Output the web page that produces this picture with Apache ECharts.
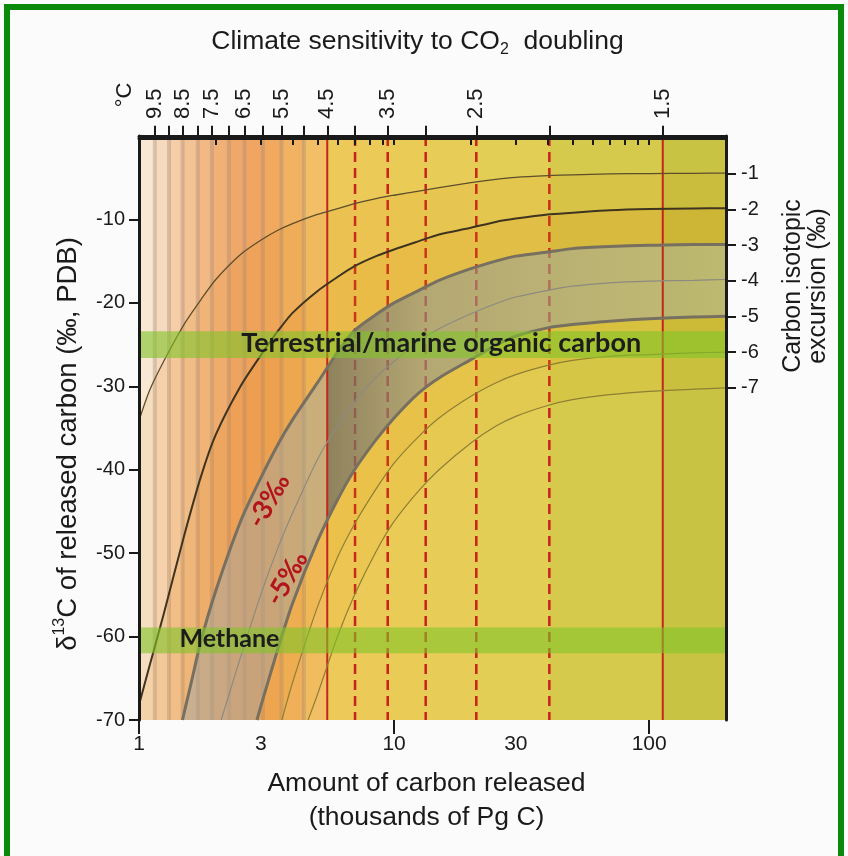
<!DOCTYPE html>
<html>
<head>
<meta charset="utf-8">
<script src="https://cdn.jsdelivr.net/npm/echarts@6/dist/echarts.min.js"></script>
<style>
html, body { margin: 0; padding: 0; background: #fbfbfb; }
#main { width: 848px; height: 856px; }
</style>
</head>
<body>
<div id="main"></div>
<script>
// axes (x = thousands of Pg C, log scale; y = d13C of released carbon)
var xMin = 1, xMax = 200;
var yMin = -70, yMax = 0;
var xTicks = [1, 2, 3, 4, 5, 6, 7, 8, 9, 10, 20, 30, 40, 50, 60, 70, 80, 90, 100, 200];
var xMajorTicks = [1, 10, 100];
var xLabels = [1, 3, 10, 30, 100];
var yTicks = [-10, -20, -30, -40, -50, -60, -70];

// climate sensitivity ticks on the top axis, and the carbon amount each sits at
var sensLabels = ['9.5', '9', '8.5', '8', '7.5', '7', '6.5', '6', '5.5', '5', '4.5', '4', '3.5', '3', '2.5', '2', '1.5'];
var sensCarbon = [1.153, 1.311, 1.482, 1.70, 1.93, 2.25, 2.59, 3.06, 3.62, 4.43, 5.47, 7.03, 9.44, 13.3, 21.0, 40.6, 113];
var sensShown = ['9.5', '8.5', '7.5', '6.5', '5.5', '4.5', '3.5', '2.5', '1.5'];
var sensStripes = ['9.5', '9', '8.5', '8', '7.5', '7', '6.5', '6', '5.5', '5'];
var sensSolid = ['4.5', '1.5'];
var sensDashed = ['4', '3.5', '3', '2.5', '2'];

// right axis: carbon isotopic excursion and where its ticks sit on the left scale
var excTicks = [-1, -2, -3, -4, -5, -6, -7];
var excTickDelta = [-4.5, -8.85, -13.2, -17.4, -21.5, -25.9, -30.2];

// excursion contours, [carbon released, d13C]
var curveM1 = [[1, -34.1], [1.1, -30.5], [1.25, -27.0], [1.5, -22.6], [1.75, -19.6], [2, -17.2], [2.5, -14.2], [3, -12.5], [3.5, -11.3], [4, -10.5], [5, -9.4], [6, -8.7], [7, -8.1], [8.5, -7.5], [10, -7.1], [12.5, -6.6], [15, -6.2], [20, -5.6], [25, -5.2], [30, -4.95], [40, -4.75], [50, -4.65], [70, -4.55], [100, -4.5], [150, -4.47], [200, -4.45]];
var curveM2 = [[1, -68.2], [1.1, -63.5], [1.25, -57.3], [1.5, -48.0], [1.75, -40.8], [2, -35.8], [2.5, -30.0], [3, -26.3], [3.5, -23.4], [4, -21.2], [5, -18.6], [6, -16.9], [7, -15.6], [8.5, -14.4], [10, -13.6], [12.5, -12.6], [15, -11.8], [20, -11.0], [25, -10.3], [30, -9.9], [40, -9.4], [50, -9.2], [70, -8.9], [100, -8.75], [150, -8.68], [200, -8.65]];
var curveM3 = [[1.48, -70], [1.6, -65.6], [1.75, -60.5], [2, -54.5], [2.5, -46.2], [3, -41.0], [3.5, -37.0], [4, -34.0], [5, -29.6], [6, -25.9], [7, -23.3], [8.5, -21.4], [10, -20.0], [12.5, -18.5], [15, -17.3], [20, -15.9], [25, -15.0], [30, -14.4], [40, -13.9], [50, -13.5], [70, -13.25], [100, -13.1], [150, -13.0], [200, -13.0]];
var curveM4 = [[2.1, -70], [2.5, -62.5], [3, -55.0], [3.5, -49.4], [4, -45.2], [5, -38.8], [6, -34.7], [7, -31.8], [8.5, -28.9], [10, -27.0], [12.5, -24.6], [15, -23.1], [20, -21.3], [25, -20.1], [30, -19.3], [40, -18.5], [50, -18.0], [70, -17.6], [100, -17.4], [150, -17.3], [200, -17.2]];
var curveM5 = [[2.9, -70], [3, -68.4], [3.5, -61.5], [4, -56.0], [5, -48.6], [6, -43.6], [7, -40.0], [8.5, -36.4], [10, -33.8], [12.5, -30.8], [15, -29.0], [20, -26.8], [25, -25.1], [30, -24.0], [40, -23.0], [50, -22.6], [70, -22.2], [100, -21.9], [150, -21.7], [200, -21.6]];
var curveM6 = [[3.63, -70], [4, -65.5], [5, -56.5], [6, -50.5], [7, -46.5], [8.5, -42.3], [10, -39.2], [12.5, -36.0], [15, -33.8], [20, -31.2], [25, -29.6], [30, -28.6], [40, -27.5], [50, -26.9], [70, -26.4], [100, -26.2], [150, -26.0], [200, -25.9]];
var curveM7 = [[4.6, -70], [5, -67.0], [6, -60.0], [7, -55.0], [8.5, -49.8], [10, -46.2], [12.5, -42.5], [15, -40.0], [20, -36.8], [25, -34.8], [30, -33.6], [40, -32.3], [50, -31.6], [70, -31.0], [100, -30.6], [150, -30.35], [200, -30.2]];
var curveNames = ['-1‰', '-2‰', '-3‰', '-4‰', '-5‰', '-6‰', '-7‰'];

var contourLabels = ['-3‰', '-5‰'];
var contourLabelPos = [[3.23, -43.7], [3.8, -53.0]];

// carbon source ranges
var sourceNames = ['Terrestrial/marine organic carbon', 'Methane'];
var sourceTop = [-23.4, -58.9];
var sourceBottom = [-26.6, -62.0];
var sourceLabelX = [15.3, 1.44];

// styles
var ink = '#1a1a1a';
var font = 'Liberation Sans';
var colColors = ['#f8e7d3', '#f6dabd', '#f5cea8', '#f3c395', '#f2b984', '#f1b076', '#f0a86a', '#f0a562',
  '#f0a95f', '#f1b261', '#f2bf66', '#edc95a', '#ecca57', '#eacb56', '#e7cd58', '#e2cd55', '#d6ca4c', '#c8c342'];
var curveStyles = [
  { color: '#5e4e2c', width: 1.3 },
  { color: '#3f3420', width: 2 },
  { color: '#777060', width: 3 },
  { color: '#8d8a80', width: 1.2 },
  { color: '#777060', width: 3 },
  { color: '#8f7f34', width: 1.2 },
  { color: '#8f7f34', width: 1.2 }
];

function sensX(label) { return sensCarbon[sensLabels.indexOf(label)]; }

function bandPoints(upper, lower) {
  return upper.concat(lower.slice().reverse(), [[upper[0][0], lower[0][1]]]);
}

function vLines(labels, style, z) {
  return {
    type: 'custom', z: z, silent: true,
    data: labels.map(function (l) { return [sensX(l), yMin]; }),
    renderItem: function (params, api) {
      var a = api.coord([api.value(0), yMax]);
      var b = api.coord([api.value(0), yMin]);
      return { type: 'line', shape: { x1: a[0], y1: a[1], x2: b[0], y2: b[1] }, style: style };
    }
  };
}

function band(upper, lower, fill, z) {
  return {
    type: 'custom', z: z, silent: true,
    data: [upper[upper.length - 1]],
    renderItem: function (params, api) {
      var pts = bandPoints(upper, lower).map(function (p) { return api.coord(p); });
      var f = fill;
      if (typeof fill === 'function') {
        var xs = pts.map(function (p) { return p[0]; });
        f = fill(api, Math.min.apply(null, xs), Math.max.apply(null, xs));
      }
      return { type: 'polygon', shape: { points: pts }, style: { fill: f } };
    }
  };
}

function grayFill(api, x0, x1) {
  var w = x1 - x0;
  var o1 = (api.coord([sensX('4.5'), yMin])[0] - x0) / w;
  var o2 = (api.coord([sensX('3'), yMin])[0] - x0) / w;
  return new echarts.graphic.LinearGradient(0, 0, 1, 0, [
    { offset: 0, color: 'rgba(168,160,140,0.55)' },
    { offset: o1 - 0.002, color: 'rgba(168,160,140,0.55)' },
    { offset: o1, color: 'rgba(110,106,95,0.75)' },
    { offset: o2, color: 'rgba(150,146,130,0.64)' },
    { offset: 1, color: 'rgba(180,177,150,0.55)' }
  ]);
}

var colEdges = [xMin].concat(sensCarbon, [xMax]);
var colData = colEdges.slice(0, -1).map(function (e, i) { return [e, colEdges[i + 1]]; });

var excK = (excTickDelta[6] - excTickDelta[0]) / (excTicks[6] - excTicks[0]);
var excB = excTickDelta[0] - excK * excTicks[0];

var chart = echarts.init(document.getElementById('main'));

var series = [
  {
    type: 'custom', z: 1, silent: true, data: colData,
    renderItem: function (params, api) {
      var a = api.coord([api.value(0), yMax]);
      var b = api.coord([api.value(1), yMin]);
      return { type: 'rect', shape: { x: a[0], y: a[1], width: b[0] - a[0] + 0.6, height: b[1] - a[1] }, style: { fill: colColors[params.dataIndex] } };
    }
  },
  vLines(sensStripes, { stroke: 'rgba(165,138,120,0.38)', lineWidth: 4 }, 2),
  vLines(sensDashed, { stroke: '#c9221a', lineWidth: 2.5, lineDash: [10, 6] }, 2),
  band(curveM1, curveM2, 'rgba(225,140,20,0.10)', 3),
  band(curveM2, curveM3, 'rgba(225,130,10,0.20)', 3),
  band(curveM5, curveM6, 'rgba(225,150,0,0.16)', 3),
  band(curveM6, curveM7, 'rgba(225,160,0,0.07)', 3),
  band(curveM3, curveM5, grayFill, 4),
  vLines(sensSolid, { stroke: '#c3261b', lineWidth: 2 }, 5)
];

[curveM1, curveM2, curveM3, curveM4, curveM5, curveM6, curveM7].forEach(function (d, i) {
  series.push({
    type: 'line', name: curveNames[i], data: d, z: 6, silent: true,
    symbol: 'none', smooth: 0.25,
    lineStyle: curveStyles[i]
  });
});

series.push({
  type: 'custom', z: 7, silent: true,
  data: sourceNames.map(function (n, i) { return [sourceLabelX[i], sourceTop[i]]; }),
  renderItem: function (params, api) {
    var i = params.dataIndex;
    var a = api.coord([xMin, sourceTop[i]]);
    var b = api.coord([xMax, sourceBottom[i]]);
    var t = api.coord([sourceLabelX[i], (sourceTop[i] + sourceBottom[i]) / 2]);
    return {
      type: 'group', children: [
        { type: 'rect', shape: { x: a[0], y: a[1], width: b[0] - a[0], height: b[1] - a[1] }, style: { fill: 'rgba(128,196,40,0.6)' } },
        { type: 'text', x: t[0], y: t[1] - 1, style: { text: sourceNames[i], font: (i === 0 ? 'bold 27px Lato' : 'bold 25px Lato'), fill: '#1c1c1c', align: i === 0 ? 'center' : 'left', verticalAlign: 'middle' } }
      ]
    };
  }
});

series.push({
  type: 'custom', z: 8, silent: true, data: contourLabelPos,
  renderItem: function (params, api) {
    var p = api.coord([api.value(0), api.value(1)]);
    return {
      type: 'text', x: p[0], y: p[1], rotation: 60 * Math.PI / 180,
      style: { text: contourLabels[params.dataIndex], font: 'bold 27px Lato', fill: '#b3141c', align: 'center', verticalAlign: 'middle' }
    };
  }
});

chart.setOption({
  animation: false,
  backgroundColor: '#fbfbfb',
  grid: { left: 139, right: 122, top: 136, bottom: 136 },
  xAxis: [
    {
      type: 'log', logBase: 10, min: xMin, max: xMax, position: 'bottom', z: 50,
      axisLine: { show: true, lineStyle: { color: ink, width: 3 } },
      axisTick: { show: true, customValues: xTicks, length: 9, lineStyle: { color: ink, width: 2 } },
      axisLabel: { customValues: xLabels, fontSize: 21, color: ink, fontFamily: font, margin: 14 },
      splitLine: { show: false },
      name: 'Amount of carbon released\n(thousands of Pg C)', nameLocation: 'middle', nameGap: 47,
      nameTextStyle: { fontSize: 26.5, lineHeight: 34, color: ink, fontFamily: font, padding: [0, 12, 0, 0] }
    },
    {
      type: 'log', logBase: 10, min: xMin, max: xMax, position: 'top', z: 50,
      axisLine: { show: true, lineStyle: { color: ink, width: 3 } },
      axisTick: { show: true, customValues: sensCarbon, length: 12, lineStyle: { color: ink, width: 2 } },
      axisLabel: {
        customValues: sensShown.map(sensX), rotate: 90, fontSize: 22, color: ink, fontFamily: font, margin: 17,
        formatter: function (v) {
          var best = 0;
          sensCarbon.forEach(function (c, i) { if (Math.abs(c - v) < Math.abs(sensCarbon[best] - v)) best = i; });
          return sensLabels[best];
        }
      },
      splitLine: { show: false },
      name: '{n|Climate sensitivity to CO}{s|2}{n|  doubling}', nameLocation: 'middle', nameGap: 78,
      nameTextStyle: {
        padding: [0, 30, 0, 0],
        rich: {
          n: { fontSize: 26.5, lineHeight: 32, color: ink, fontFamily: font, verticalAlign: 'middle' },
          s: { fontSize: 16, lineHeight: 14, color: ink, fontFamily: font, verticalAlign: 'bottom' }
        }
      }
    },
    {
      type: 'log', logBase: 10, min: xMin, max: xMax, position: 'bottom', z: 50,
      axisLine: { show: false },
      axisTick: { show: true, customValues: xMajorTicks, length: 14, lineStyle: { color: ink, width: 2 } },
      axisLabel: { show: false },
      splitLine: { show: false }
    }
  ],
  yAxis: [
    {
      type: 'value', min: yMin, max: yMax, interval: 10, position: 'left', z: 50,
      axisLine: { show: true, lineStyle: { color: ink, width: 3 } },
      axisTick: { show: true, customValues: yTicks, length: 10, lineStyle: { color: ink, width: 2 } },
      axisLabel: { customValues: yTicks, fontSize: 20, color: ink, fontFamily: font, margin: 14 },
      splitLine: { show: false },
      name: '{n|δ}{s|13}{n|C of released carbon (‰, PDB)}', nameLocation: 'middle', nameGap: 55, nameRotate: 90,
      nameTextStyle: {
        padding: [0, 32, 0, 0],
        rich: {
          n: { fontSize: 27.5, lineHeight: 32, color: ink, fontFamily: font, verticalAlign: 'middle' },
          s: { fontSize: 16, lineHeight: 18, color: ink, fontFamily: font, verticalAlign: 'top' }
        }
      }
    },
    {
      type: 'value', min: (yMin - excB) / excK, max: (yMax - excB) / excK, position: 'right', z: 50,
      axisLine: { show: true, lineStyle: { color: ink, width: 3 } },
      axisTick: { show: true, customValues: excTicks, length: 10, lineStyle: { color: ink, width: 2 } },
      axisLabel: { customValues: excTicks, fontSize: 20, color: ink, fontFamily: font, margin: 15 },
      splitLine: { show: false }
    }
  ],
  graphic: [
    { type: 'rect', z: 100, shape: { x: 7, y: 7, width: 834, height: 870 }, style: { fill: null, stroke: '#0a8a0a', lineWidth: 6 } },
    { type: 'text', z: 100, x: 125, y: 95, rotation: Math.PI / 2, style: { text: '°C', font: '22px "Liberation Sans"', fill: ink, align: 'center', verticalAlign: 'middle' } },
    { type: 'text', z: 100, x: 806, y: 286, rotation: Math.PI / 2, style: { text: 'Carbon isotopic\nexcursion (‰)', font: '25px "Liberation Sans"', lineHeight: 25, fill: ink, align: 'center', verticalAlign: 'middle' } }
  ],
  series: series
});
</script>
</body>
</html>
